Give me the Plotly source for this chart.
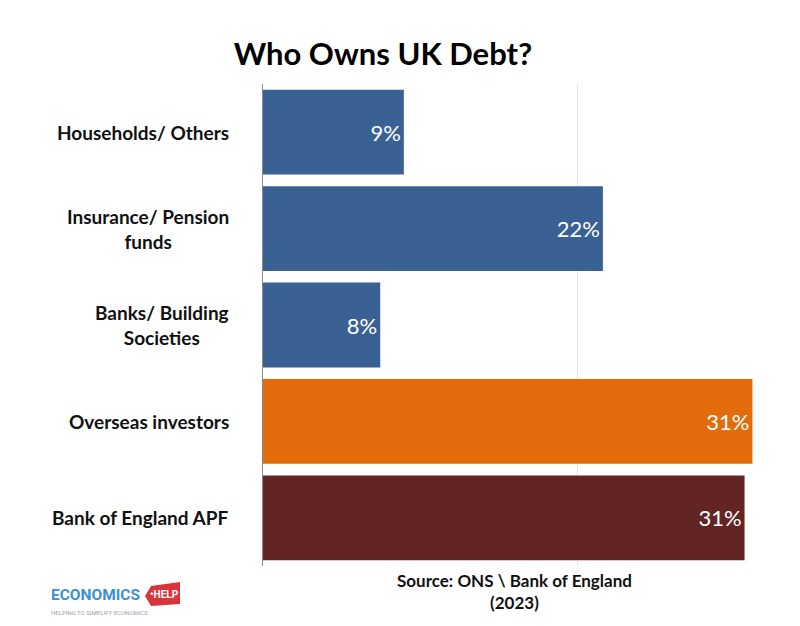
import plotly.graph_objects as go

# ---- data ----
categories = ["Households/ Others", "Insurance/ Pension funds", "Banks/ Building Societies",
              "Overseas investors", "Bank of England APF"]
display_labels = ["Households/ Others", "Insurance/ Pension<br>funds", "Banks/ Building<br>Societies",
                  "Overseas investors", "Bank of England APF"]
values = [8.95, 21.6, 7.45, 31.1, 30.6]
value_labels = ["9%", "22%", "8%", "31%", "31%"]
bar_colors = ["#3A6193", "#3A6193", "#3A6193", "#E36C0A", "#632523"]

W, H = 800, 626
L, R, T, B = 263, 754, 84, 566


def px(x):
    return (x - L) / (R - L)


def py(y):
    return (B - y) / (B - T)


fig = go.Figure()
fig.add_trace(go.Bar(
    y=categories, x=values, orientation="h",
    marker=dict(color=bar_colors, line=dict(width=0)),
    text=value_labels, textposition="inside", insidetextanchor="end",
    textfont=dict(family="Lato, Open Sans, sans-serif", size=22, color="white"),
    cliponaxis=False, hoverinfo="skip",
))

annotations = []
for cat, lab in zip(categories, display_labels):
    annotations.append(dict(
        x=0, xref="paper", y=cat, yref="y", xanchor="right", yanchor="middle",
        xshift=-32, text="<b>" + lab + "</b>", showarrow=False, align="center",
        font=dict(family="Lato, Open Sans, sans-serif", size=19, color="#111111"),
    ))

# source
annotations.append(dict(
    x=px(514), xref="paper", y=py(591), yref="paper", xanchor="center", yanchor="middle",
    text="<b>Source: ONS \\ Bank of England<br>(2023)</b>", showarrow=False, align="center",
    font=dict(family="Lato, Open Sans, sans-serif", size=17, color="#111111"),
))

# logo
annotations.append(dict(
    x=px(49), xref="paper", y=py(595), yref="paper", xanchor="left", yanchor="middle",
    text="<b>ECONOMICS</b>", showarrow=False,
    font=dict(family="Roboto, sans-serif", size=15.5, color="#3B8FD4"),
))
annotations.append(dict(
    x=px(164), xref="paper", y=py(594), yref="paper", xanchor="center", yanchor="middle",
    text="<b>•HELP</b>", showarrow=False,
    font=dict(family="Roboto, sans-serif", size=10, color="white"),
))
annotations.append(dict(
    x=px(49), xref="paper", y=py(612), yref="paper", xanchor="left", yanchor="middle",
    text="HELPING TO SIMPLIFY ECONOMICS", showarrow=False,
    font=dict(family="Roboto, sans-serif", size=6, color="#9AA3AE"),
))

tag_path = "M {} {} L {} {} L {} {} L {} {} L {} {} Z".format(
    px(145), py(596), px(151), py(586), px(180), py(582), px(180), py(604), px(151), py(606))

fig.update_layout(
    width=W, height=H,
    margin=dict(l=L, r=W - R, t=T, b=H - B),
    paper_bgcolor="white", plot_bgcolor="white",
    bargap=0.12,
    showlegend=False,
    title=dict(text="<b>Who Owns UK Debt?</b>", x=383 / W, xanchor="center", xref="container",
               y=1 - 54 / H, yanchor="middle", yref="container",
               font=dict(family="Lato, Open Sans, sans-serif", size=31, color="#000000")),
    xaxis=dict(range=[0, 31.2], dtick=20, showticklabels=False, showgrid=True,
               gridcolor="#E4E4E4", gridwidth=1, zeroline=False, showline=False, ticks=""),
    yaxis=dict(autorange="reversed", showticklabels=False, showline=True, linecolor="#8C8C8C",
               linewidth=1, ticks="", showgrid=False),
    annotations=annotations,
    shapes=[dict(type="path", path=tag_path, xref="paper", yref="paper",
                 fillcolor="#D8343C", line=dict(width=0), layer="below")],
)

fig.write_html("out.html", config={"displayModeBar": False},
               post_script="document.body.style.margin='0';document.body.style.overflow='hidden';")
